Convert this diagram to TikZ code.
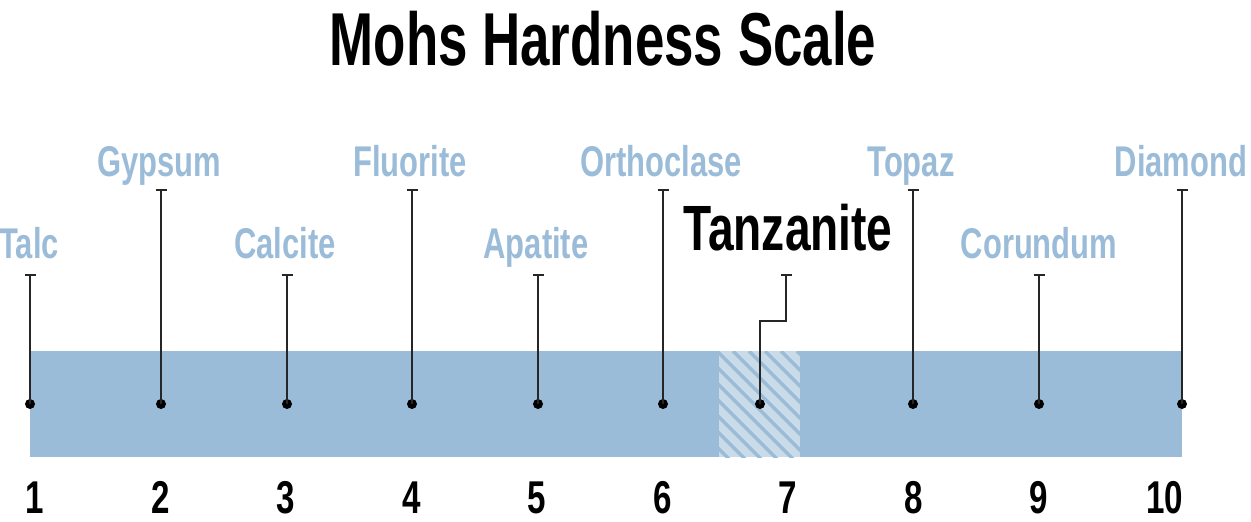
\documentclass[tikz,border=0pt]{standalone}
\usepackage{fontspec}
\setmainfont{Liberation Sans}[FakeStretch=0.72]
\newfontfamily\titlefont{Liberation Sans}[FakeStretch=0.705]
\usetikzlibrary{arrows.meta}
\definecolor{barblue}{HTML}{9BBCD8}
\definecolor{hatchbg}{HTML}{C9DAE9}
\begin{document}
\begin{tikzpicture}[x=1pt,y=-1pt,
  mineral/.style={anchor=base,inner sep=0pt,text=barblue,font=\bfseries\fontsize{43}{43}\selectfont},
  gem/.style={anchor=base,inner sep=0pt,text=black,font=\bfseries\fontsize{64}{64}\selectfont},
  titletext/.style={anchor=base,inner sep=0pt,text=black,font=\titlefont\bfseries\fontsize{75}{75}\selectfont},
  num/.style={anchor=base,inner sep=0pt,text=black,font=\bfseries\fontsize{46}{46}\selectfont},
  dot/.style={circle,fill=black,inner sep=0pt,minimum size=10pt},
  stem/.style={line width=1.5pt,draw=black!85,{Bar[width=11pt,line width=1.5pt]}-},
  barfill/.style={fill=barblue}]
\useasboundingbox (0,0) rectangle (1251,522);

% title
\node[titletext] (title) at (603,65) {Mohs Hardness Scale};

% bar
\fill[barfill] (30,351) rectangle (1182,457);
\begin{scope}
  \clip (719,351) rectangle (800,457);
  \fill[hatchbg] (719,351) rectangle (800,457);
  \foreach \k in {-8,...,5}
    \draw[barblue,line width=3.5pt] (733+16*\k,351) -- ++(120,120);
\end{scope}

% dots
\foreach \n/\x in {1/30,2/161,3/287,4/412,5/538,6/663,8/913,9/1039,10/1182}
  \node[dot] (d\n) at (\x,404) {};
\node[dot] (d7) at (760,404) {};

% stem tops
\foreach \n/\x in {1/30,3/287,5/538,9/1039}
  \coordinate (t\n) at (\x,274);
\foreach \n/\x in {2/161,4/412,6/663,8/913,10/1182}
  \coordinate (t\n) at (\x,189);
\coordinate (t7) at (786,274);
\coordinate (k7) at (786,321);
\coordinate (j7) at (760,321);

\foreach \n in {1,2,3,4,5,6,8,9,10}
  \draw[stem] (t\n) -- (d\n.center);
\draw[stem] (t7) -- (k7) -- (j7) -- (d7.center);

% mineral labels
\node[mineral] (l1) at (29,258) {Talc};
\node[mineral] (l2) at (159,176) {Gypsum};
\node[mineral] (l3) at (285,258) {Calcite};
\node[mineral] (l4) at (410,176) {Fluorite};
\node[mineral] (l5) at (536,258) {Apatite};
\node[mineral] (l6) at (661,176) {Orthoclase};
\node[mineral] (l8) at (911,176) {Topaz};
\node[mineral] (l9) at (1039,258) {Corundum};
\node[mineral] (l10) at (1181,176) {Diamond};
\node[gem] (l7) at (788,250) {Tanzanite};

% scale numbers
\foreach \k in {1,...,10}
  \node[num] (n\k) at ({35+125.5*(\k-1)},513) {\k};
\end{tikzpicture}
\end{document}
